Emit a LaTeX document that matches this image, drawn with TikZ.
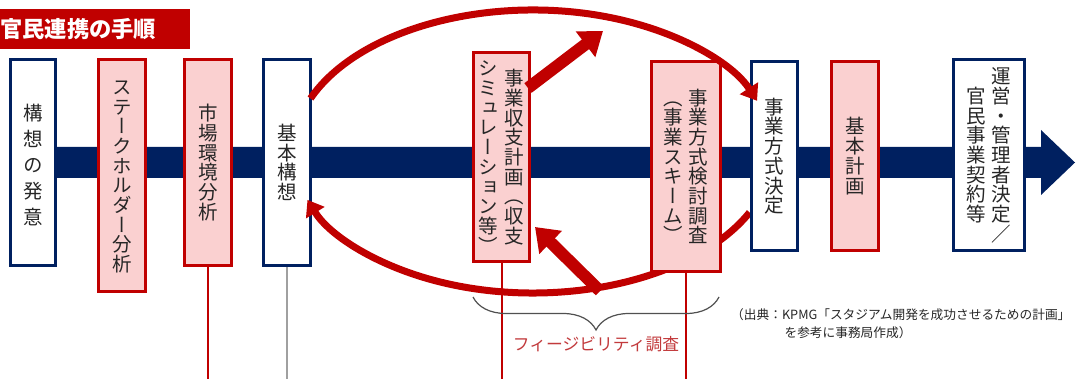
\documentclass[tikz,border=0pt]{standalone}
\usepackage{fontspec}
\usetikzlibrary{arrows.meta,decorations.pathreplacing,calc}
\newfontfamily\jp{Noto Sans CJK JP}
\newfontfamily\jpv[RawFeature=+vert]{Noto Sans CJK JP}
\definecolor{navy}{HTML}{002060}
\definecolor{dred}{HTML}{C00000}
\definecolor{pinkf}{HTML}{FAD0D0}
\definecolor{txt}{HTML}{262626}
\definecolor{lbl}{HTML}{C23A3C}
\definecolor{brc}{HTML}{505050}
\definecolor{stemgray}{HTML}{A0A0A0}
\newlength\vtp
\setlength\vtp{19.7pt}
\def\vtend{}
\def\vtendm{\vtend}
\def\vtloop#1{\def\vtarg{#1}\ifx\vtarg\vtendm\else\hbox to \vtp{\hss\vrule height .88\vtp depth .12\vtp width 0pt\relax #1\hss}\expandafter\vtloop\fi}
\newcommand\vcol[1]{$\vcenter{\offinterlineskip\vtloop#1\vtend}$}
\pgfdeclarelayer{bg}
\pgfsetlayers{bg,main}
\begin{document}
\begin{tikzpicture}[x=1pt,y=-1pt,
  vbox/.style={draw=navy, line width=2.8pt, fill=white, inner sep=0pt, text=txt, font=\jpv\fontsize{19.5}{19.5}\selectfont},
  pbox/.style={vbox, draw=dred, fill=pinkf},
  ell/.style={draw=dred, line width=7pt, -{Triangle[length=15pt,width=21pt]}},
  fat/.style={draw=dred, line width=12pt, -{Triangle[length=22pt,width=31pt]}},
  stem/.style={draw=dred, line width=2pt},
]
\useasboundingbox (0,0) rectangle (1076,379);
% title
\node[fill=dred, anchor=north west, minimum height=40pt, text width=190pt, inner sep=0pt, align=left, text=white, font=\jp\bfseries\fontsize{22.3}{24}\selectfont] (title) at (0,9) {官民連携の手順};
% main bar
\begin{pgfonlayer}{bg}
\fill[navy] (30,147) -- (1041,147) -- (1041,130) -- (1075,162.5) -- (1041,195) -- (1041,178) -- (30,178) -- cycle;
\end{pgfonlayer}
\coordinate (ec) at (533,151.5);
% boxes left
\node[vbox, minimum width=45.2pt, minimum height=206pt] (n1) at (33,162.5) {\setlength\vtp{26pt}\vcol{構想の発意}};
\node[pbox, minimum width=47.2pt, minimum height=232.2pt] (n2) at (122,175.5) {\vcol{ステークホルダー分析}};
\node[pbox, minimum width=47.2pt, minimum height=206pt] (n3) at (208,162.5) {\vcol{市場環境分析}};
\node[vbox, minimum width=47.2pt, minimum height=206pt] (n4) at (287,162.5) {\vcol{基本構想}};
% bottom arc (back to 基本構想)
\draw[ell] ($(ec)+(25.5:240 and 141.5)$) arc[start angle=25.5, end angle=160, x radius=240, y radius=141.5];
% boxes right
\node[pbox, minimum width=56.2pt, minimum height=209.2pt] (n5) at (501.5,157) {\vcol{シミュレーション等）}\hspace{6.3pt}\vcol{事業収支計画（収支}};
\node[pbox, minimum width=69.2pt, minimum height=210.2pt] (n6) at (686,166.5) {\vcol{（事業スキーム）}\hspace{5.3pt}\vcol{事業方式検討調査}};
\node[vbox, minimum width=46.2pt, minimum height=189.2pt] (n7) at (774.5,156) {\vcol{事業方式決定}};
\node[pbox, minimum width=47.2pt, minimum height=189.2pt] (n8) at (855,156) {\vcol{基本計画}};
\node[vbox, minimum width=71.2pt, minimum height=191.2pt] (n9) at (989,155) {\vcol{官民事業契約等}\hspace{5.3pt}\vcol{運営・管理者決定{\jp ／}}};
% top arc (to 事業方式決定)
\draw[ell] ($(ec)+(202:240 and 141.5)$) arc[start angle=202, end angle=339, x radius=240, y radius=141.5];
% thick arrows
\coordinate (a1s) at (528,88);
\coordinate (a1e) at (603,31);
\coordinate (a2s) at (600,291);
\coordinate (a2e) at (535,227);
\draw[fat] (a1s) -- (a1e);
\draw[fat] (a2s) -- (a2e);
% stems below
\begin{pgfonlayer}{bg}
\coordinate (s3) at (n3.south |- 0,379);
\coordinate (s4) at (n4.south |- 0,379);
\coordinate (s5) at (n5.south |- 0,379);
\coordinate (s6) at (n6.south |- 0,379);
\draw[stem] (n3.south) -- (s3);
\draw[stemgray, line width=2.5pt] (n4.south) -- (s4);
\draw[stem] (n5.south) -- (s5);
\draw[stem] (n6.south) -- (s6);
\end{pgfonlayer}
% brace
\coordinate (b1) at (473,297);
\coordinate (b2) at (719,297);
\draw[brc, line width=1.2pt, decorate, decoration={brace, amplitude=33pt, mirror}] (b1) -- (b2);
\node[text=lbl, font=\jp\fontsize{16.8}{18}\selectfont, inner sep=0pt] (fs) at (596,344) {フィージビリティ調査};
% source
\node[anchor=north west, inner sep=0pt, align=left, text=txt, font=\jp\fontsize{12.7}{18}\selectfont] (src) at (731,308) {（出典：KPMG「スタジアム開発を成功させるための計画」\\\hspace*{4.2em}を参考に事務局作成）};
\end{tikzpicture}
\end{document}
